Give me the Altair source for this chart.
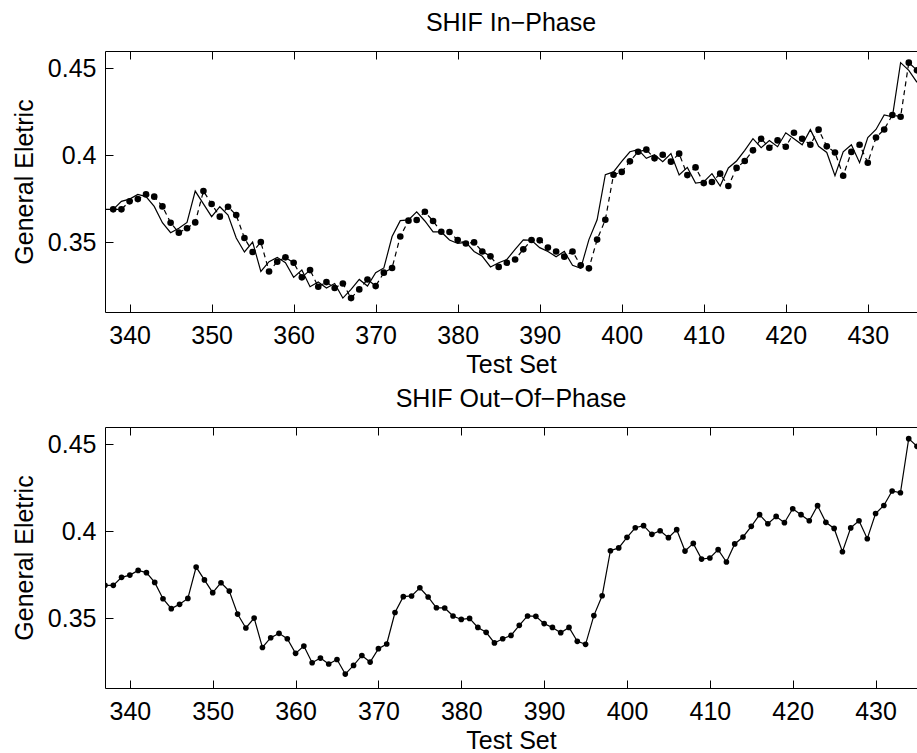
import altair as alt
import pandas as pd

# ---------------- data ----------------
test_set = list(range(337, 437))  # 337 .. 436

in_phase_solid = [
    0.3690, 0.3690, 0.3736, 0.3749, 0.3776, 0.3763, 0.3707, 0.3613, 0.3556, 0.3581,
    0.3615, 0.3795, 0.3721, 0.3648, 0.3705, 0.3657, 0.3525, 0.3445, 0.3502, 0.3333,
    0.3389, 0.3414, 0.3383, 0.3299, 0.3341, 0.3245, 0.3272, 0.3238, 0.3264, 0.3180,
    0.3230, 0.3287, 0.3249, 0.3326, 0.3353, 0.3534, 0.3625, 0.3629, 0.3676, 0.3623,
    0.3561, 0.3560, 0.3514, 0.3494, 0.3500, 0.3448, 0.3420, 0.3359, 0.3383, 0.3402,
    0.3460, 0.3514, 0.3512, 0.3470, 0.3448, 0.3418, 0.3448, 0.3368, 0.3351, 0.3516,
    0.3630, 0.3889, 0.3905, 0.3966, 0.4021, 0.4033, 0.3983, 0.4004, 0.3964, 0.4010,
    0.3887, 0.3931, 0.3841, 0.3847, 0.3895, 0.3824, 0.3928, 0.3968, 0.4029, 0.4096,
    0.4044, 0.4086, 0.4050, 0.4130, 0.4096, 0.4061, 0.4148, 0.4052, 0.4017, 0.3883,
    0.4020, 0.4061, 0.3958, 0.4103, 0.4149, 0.4232, 0.4222, 0.4533, 0.4489, 0.4420,
]

in_phase_dots_x = list(range(338, 437))  # 338 .. 436
in_phase_dots = [
    0.3690, 0.3690, 0.3736, 0.3749, 0.3776, 0.3763, 0.3707, 0.3613, 0.3556,
    0.3581, 0.3615, 0.3795, 0.3721, 0.3648, 0.3705, 0.3657, 0.3525, 0.3445, 0.3502,
    0.3333, 0.3389, 0.3414, 0.3383, 0.3299, 0.3341, 0.3245, 0.3272, 0.3238, 0.3264,
    0.3180, 0.3230, 0.3287, 0.3249, 0.3326, 0.3353, 0.3534, 0.3625, 0.3629, 0.3676,
    0.3623, 0.3561, 0.3560, 0.3514, 0.3494, 0.3500, 0.3448, 0.3420, 0.3359, 0.3383,
    0.3402, 0.3460, 0.3514, 0.3512, 0.3470, 0.3448, 0.3418, 0.3448, 0.3368, 0.3351,
    0.3516, 0.3630, 0.3889, 0.3905, 0.3966, 0.4021, 0.4033, 0.3983, 0.4004, 0.3964,
    0.4010, 0.3887, 0.3931, 0.3841, 0.3847, 0.3895, 0.3824, 0.3928, 0.3968, 0.4029,
    0.4096, 0.4044, 0.4086, 0.4050, 0.4130, 0.4096, 0.4061, 0.4148, 0.4052, 0.4017,
    0.3883, 0.4020, 0.4061, 0.3958, 0.4103, 0.4149, 0.4232, 0.4222, 0.4533, 0.4489,
]

out_phase_x = list(range(337, 436))  # 337 .. 435
out_phase = [
    0.3690, 0.3690, 0.3736, 0.3749, 0.3776, 0.3763, 0.3707, 0.3613, 0.3556, 0.3581,
    0.3615, 0.3795, 0.3721, 0.3648, 0.3705, 0.3657, 0.3525, 0.3445, 0.3502, 0.3333,
    0.3389, 0.3414, 0.3383, 0.3299, 0.3341, 0.3245, 0.3272, 0.3238, 0.3264, 0.3180,
    0.3230, 0.3287, 0.3249, 0.3326, 0.3353, 0.3534, 0.3625, 0.3629, 0.3676, 0.3623,
    0.3561, 0.3560, 0.3514, 0.3494, 0.3500, 0.3448, 0.3420, 0.3359, 0.3383, 0.3402,
    0.3460, 0.3514, 0.3512, 0.3470, 0.3448, 0.3418, 0.3448, 0.3368, 0.3351, 0.3516,
    0.3630, 0.3889, 0.3905, 0.3966, 0.4021, 0.4033, 0.3983, 0.4004, 0.3964, 0.4010,
    0.3887, 0.3931, 0.3841, 0.3847, 0.3895, 0.3824, 0.3928, 0.3968, 0.4029, 0.4096,
    0.4044, 0.4086, 0.4050, 0.4130, 0.4096, 0.4061, 0.4148, 0.4052, 0.4017, 0.3883,
    0.4020, 0.4061, 0.3958, 0.4103, 0.4149, 0.4232, 0.4222, 0.4533, 0.4489,
]

x_ticks = [340, 350, 360, 370, 380, 390, 400, 410, 420, 430]
y_ticks = [0.35, 0.4, 0.45]
titles = ["SHIF In\u2212Phase", "SHIF Out\u2212Of\u2212Phase"]
x_title = "Test Set"
y_title = "General Eletric"

# ---------------- styling / layout ----------------
FONT = "Liberation Sans"
FS = 25
W, H = 812, 261
TICK = 8

df_solid = pd.DataFrame({"x": test_set, "y": in_phase_solid})
df_dots = pd.DataFrame({"x": in_phase_dots_x, "y": in_phase_dots})
df_out = pd.DataFrame({"x": out_phase_x, "y": out_phase})


def y_scale():
    return alt.Scale(domain=[0.31, 0.46], nice=False, zero=False)


def main_x_axis():
    return alt.Axis(orient="bottom", values=x_ticks, format="d", title=x_title,
                    ticks=False, tickSize=0, domain=True, labelPadding=31,
                    labelBaseline="alphabetic", titlePadding=4.5, labelOverlap=False,
                    labelFlush=False)


def main_y_axis():
    return alt.Axis(orient="left", values=y_ticks, format=".2~f", title=y_title,
                    ticks=False, tickSize=0, domain=True, labelPadding=9,
                    titlePadding=10, labelOverlap=False)


def inner_bottom_ticks():
    return alt.Axis(orient="top", offset=-H, values=x_ticks, domain=False,
                    labels=False, ticks=True, tickSize=TICK, title=None)


def top_edge_axis():
    return alt.Axis(orient="bottom", offset=-H, values=x_ticks, domain=True,
                    labels=False, ticks=True, tickSize=TICK, title=None)


def inner_left_ticks():
    return alt.Axis(orient="right", offset=-W, values=y_ticks, domain=False,
                    labels=False, ticks=True, tickSize=TICK, title=None)


def panel(title, layers):
    return (
        alt.layer(*layers)
        .resolve_axis(x="independent", y="independent")
        .properties(width=W, height=H,
                    title=alt.TitleParams(title, fontSize=FS, font=FONT,
                                          fontWeight="normal", anchor="middle",
                                          baseline="alphabetic", offset=-5,
                                          color="black"))
    )


# ---- top panel ----
xs_top = alt.Scale(domain=[337, 436], nice=False, zero=False)
top_solid = alt.Chart(df_solid).mark_line(color="black", strokeWidth=1.2, clip=True).encode(
    x=alt.X("x:Q", scale=xs_top, axis=main_x_axis()),
    y=alt.Y("y:Q", scale=y_scale(), axis=main_y_axis()),
)
top_dash = alt.Chart(df_dots).mark_line(color="black", strokeWidth=1.2, strokeDash=[5, 4],
                                        clip=True).encode(
    x=alt.X("x:Q", scale=xs_top, axis=inner_bottom_ticks()),
    y=alt.Y("y:Q", scale=y_scale(), axis=inner_left_ticks()),
)
top_pts = alt.Chart(df_dots).mark_circle(color="black", size=44, opacity=1, clip=True).encode(
    x=alt.X("x:Q", scale=xs_top, axis=top_edge_axis()),
    y=alt.Y("y:Q", scale=y_scale(), axis=None),
)
top = panel(titles[0], [top_solid, top_dash, top_pts])

# ---- bottom panel ----
xs_bot = alt.Scale(domain=[337, 435], nice=False, zero=False)
bot_line = alt.Chart(df_out).mark_line(color="black", strokeWidth=1.2, clip=True).encode(
    x=alt.X("x:Q", scale=xs_bot, axis=main_x_axis()),
    y=alt.Y("y:Q", scale=y_scale(), axis=main_y_axis()),
)
bot_pts = alt.Chart(df_out).mark_circle(color="black", size=32, opacity=1, clip=True).encode(
    x=alt.X("x:Q", scale=xs_bot, axis=inner_bottom_ticks()),
    y=alt.Y("y:Q", scale=y_scale(), axis=inner_left_ticks()),
)
bot_edge = alt.Chart(df_out).mark_circle(opacity=0, size=1, clip=True).encode(
    x=alt.X("x:Q", scale=xs_bot, axis=top_edge_axis()),
    y=alt.Y("y:Q", scale=y_scale(), axis=None),
)
bottom = panel(titles[1], [bot_line, bot_pts, bot_edge])

chart = (
    alt.vconcat(top, bottom, spacing=8)
    .properties(padding={"left": 12, "top": 10, "right": 0, "bottom": 0},
                background="white")
    .configure_view(stroke=None)
    .configure_axis(labelFont=FONT, labelFontSize=FS, titleFont=FONT, titleFontSize=FS,
                    titleFontWeight="normal", labelColor="black", titleColor="black",
                    domainColor="black", tickColor="black", domainWidth=1, tickWidth=1,
                    grid=False)
)

chart.save("out.html", embed_options={"renderer": "svg", "actions": False})
